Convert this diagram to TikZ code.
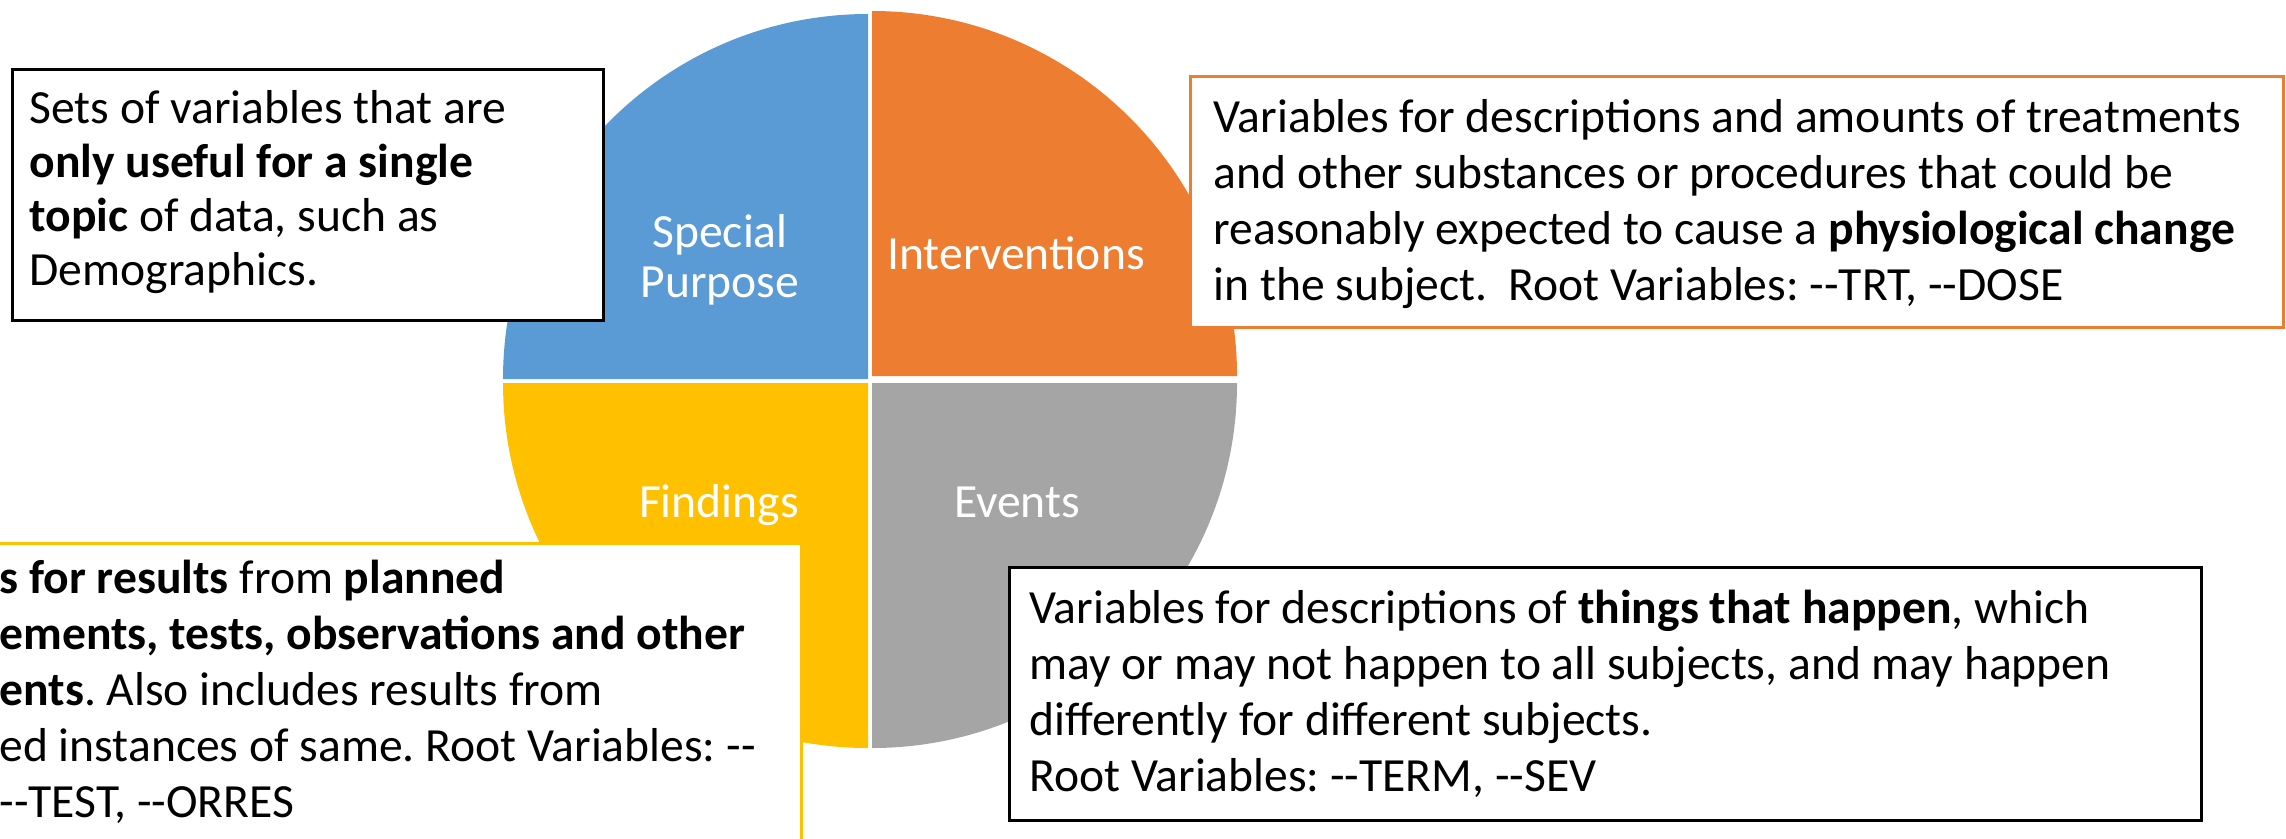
\documentclass[tikz,border=0pt]{standalone}
\usepackage{fontspec}
\newfontfamily\calibri{Carlito}
\usetikzlibrary{positioning}
\definecolor{purposeblue}{HTML}{5B9BD5}
\definecolor{interorange}{HTML}{ED7D31}
\definecolor{findgold}{HTML}{FFC000}
\definecolor{eventgray}{HTML}{A5A5A5}
\begin{document}
\begin{tikzpicture}[x=0.25pt, y=0.25pt, every node/.style={font=\calibri\fontsize{11.9}{13.5}\selectfont}]
    \tikzstyle{slice} = [text=white, inner sep=0pt, anchor=base, font=\calibri\fontsize{11.9}{12.5}\selectfont]
    \tikzstyle{note} = [draw=black, line width=0.75pt, fill=white, align=left, inner ysep=0pt, anchor=base west,
        execute at begin node={\frenchspacing\hyphenpenalty=10000\spaceskip=0pt\xspaceskip=0pt}]
    \tikzstyle{tight} = [font=\calibri\fontsize{11.9}{14}\selectfont]

    \useasboundingbox (0,0) rectangle (2286,838);
    \clip (0,0) rectangle (2286,838);

    % the four quarters
    \fill[purposeblue] (868,459) -- ++(-365,0) arc[start angle=180, end angle=90, radius=365] -- cycle;
    \fill[interorange] (872,462) -- ++(365,0) arc[start angle=0, end angle=90, radius=365] -- cycle;
    \fill[findgold] (868,455) -- ++(-365,0) arc[start angle=180, end angle=270, radius=365] -- cycle;
    \fill[eventgray] (872,455) -- ++(365,0) arc[start angle=0, end angle=-90, radius=365] -- cycle;

    \node[slice, text width=80pt, align=center] (q1) at (720,591) {Special\\Purpose};
    \node[slice] (q2) at (1016,569) {Interventions};
    \node[slice] (q3) at (719,321) {Findings};
    \node[slice] (q4) at (1017,321) {Events};

    % the four notes
    \node[note, text width=139.25pt, inner xsep=4.25pt, text height=13.5pt, text depth=49.25pt] (b1) at (11,715)
        {Sets of variables that are\\\textbf{only useful for a single}\\\textbf{topic} of data, such as\\Demographics.};
    \node[note, tight, draw=interorange, text width=261.75pt, inner xsep=5.75pt, text height=14pt, text depth=48.75pt] (b2) at (1189,706)
        {Variables for descriptions and amounts of treatments\\and other substances or procedures that could be\\reasonably expected to cause a \textbf{physiological change}\\in the subject.\ \ Root Variables: --TRT, --DOSE};
    \node[note, tight, draw=findgold, text width=198.5pt, inner xsep=2pt, text height=12.5pt, text depth=64.25pt] (b3) at (-10,245)
        {\textbf{s for results} from \textbf{planned}\\\textbf{ements, tests, observations and other}\\\textbf{ents}. Also includes results from\\ed instances of same. Root Variables: --\\--TEST, --ORRES};
    \node[note, tight, text width=288pt, inner xsep=5pt, text height=14pt, text depth=49.25pt] (b4) at (1008,215)
        {Variables for descriptions of \textbf{things that happen}, which\\may or may not happen to all subjects, and may happen\\differently for different subjects.\\Root Variables: --TERM, --SEV};
\end{tikzpicture}
\end{document}
